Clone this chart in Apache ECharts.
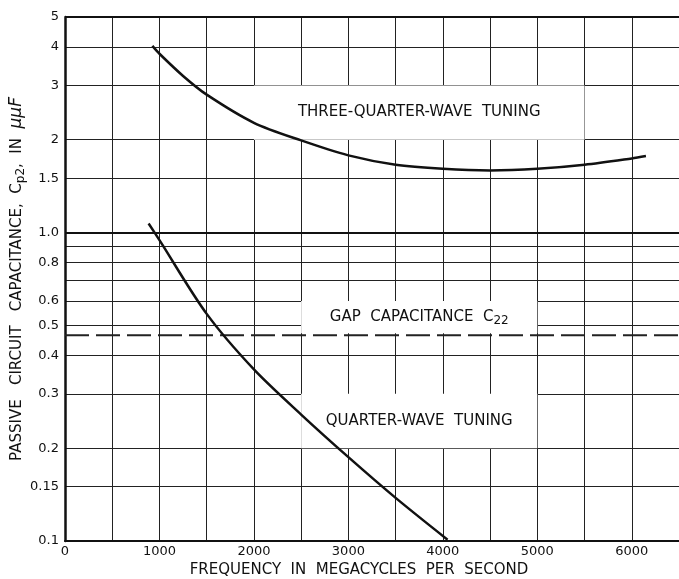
<!DOCTYPE html>
<html>
<head>
<meta charset="utf-8">
<script src="https://cdn.jsdelivr.net/npm/echarts@6/dist/echarts.min.js"></script>
<style>html,body{margin:0;padding:0;background:#fff}#c{width:679px;height:579px}</style>
</head>
<body>
<div id="c"></div>
<script>
// ---- data ----
var xTickLabels = [0, 1000, 2000, 3000, 4000, 5000, 6000];
var yGridValues = [0.1, 0.15, 0.2, 0.3, 0.4, 0.5, 0.6, 0.7, 0.8, 0.9, 1, 1.5, 2, 3, 4, 5];
var yTickLabels = [0.1, 0.15, 0.2, 0.3, 0.4, 0.5, 0.6, 0.8, 1, 1.5, 2, 3, 4, 5];
var threeQuarterWave = [[925, 4.03], [1000, 3.8], [1250, 3.22], [1500, 2.8], [2000, 2.27], [2500, 1.99], [3000, 1.78], [3500, 1.66], [4000, 1.61], [4500, 1.59], [5000, 1.61], [5500, 1.66], [6000, 1.74], [6150, 1.77]];
var quarterWave = [[885, 1.07], [1000, 0.945], [1500, 0.545], [2000, 0.36], [2500, 0.257], [3000, 0.187], [3500, 0.138], [4050, 0.101]];
var gapCapacitance = [[0, 0.465], [6500, 0.465]];
var labelBoxes = [
  {text: 'THREE-QUARTER-WAVE  TUNING', x: [2000, 5500], y: [2, 3]},
  {text: 'GAP  CAPACITANCE  {n|C}{s|22}', x: [2500, 5000], y: [0.472, 0.6]},
  {text: 'QUARTER-WAVE  TUNING', x: [2500, 5000], y: [0.2, 0.3]}
];
var thickLines = [1, 5];

var FONT = 'DejaVu Sans';
var chart = echarts.init(document.getElementById('c'));
chart.setOption({
  backgroundColor: '#fff',
  animation: false,
  grid: {left: 65, right: 0, top: 17, bottom: 38, outerBoundsMode: 'none', containLabel: false},
  xAxis: {
    type: 'value', min: 0, max: 6500, interval: 500,
    axisLine: {show: true, onZero: false, lineStyle: {color: '#111', width: 2}},
    axisTick: {show: false},
    splitLine: {show: true, lineStyle: {color: '#222', width: 1}},
    axisLabel: {customValues: xTickLabels, color: '#111', fontFamily: FONT, fontSize: 13, margin: 4,
      formatter: function (v) { return String(v); }},
    name: 'FREQUENCY  IN  MEGACYCLES  PER  SECOND',
    nameLocation: 'middle', nameGap: 18,
    nameTextStyle: {color: '#111', fontFamily: FONT, fontSize: 15, padding: [0, 26, 0, 0]}
  },
  yAxis: {
    type: 'log', logBase: 10, min: 0.1, max: 5,
    axisLine: {show: true, lineStyle: {color: '#111', width: 2.5}},
    axisTick: {show: false, customValues: yGridValues},
    splitLine: {show: true, lineStyle: {color: '#222', width: 1}},
    axisLabel: {
      customValues: yTickLabels, color: '#111', fontFamily: FONT, fontSize: 13, margin: 6,
      formatter: function (v) { return v === 1 ? '1.0' : String(v); }
    },
    name: '{n|PASSIVE   CIRCUIT   CAPACITANCE,  C}{s|p2}{n|,  IN  }{i|μμF}',
    nameLocation: 'middle', nameGap: 38, nameRotate: 90, nameMoveOverlap: false,
    nameTextStyle: {
      color: '#111', fontFamily: FONT, fontSize: 15,
      rich: {
        n: {fontFamily: FONT, fontSize: 15, color: '#111'},
        s: {fontFamily: FONT, fontSize: 12, color: '#111', padding: [8, 0, 0, 0]},
        i: {fontFamily: FONT, fontSize: 17, fontStyle: 'italic', color: '#111'}
      }
    }
  },
  series: [
    {
      type: 'line', data: [], z: 2, silent: true,
      markArea: {
        silent: true,
        itemStyle: {color: '#fff'},
        label: {
          show: true, position: 'inside', color: '#111', fontFamily: FONT, fontSize: 15,
          rich: {
            n: {fontFamily: FONT, fontSize: 15, color: '#111'},
            s: {fontFamily: FONT, fontSize: 12, color: '#111', padding: [7, 0, 0, 0]}
          }
        },
        data: labelBoxes.map(function (b) {
          return [{name: b.text, xAxis: b.x[0], yAxis: b.y[0]}, {xAxis: b.x[1], yAxis: b.y[1]}];
        })
      },
      markLine: {
        silent: true, symbol: 'none', label: {show: false},
        lineStyle: {color: '#111', width: 2, type: 'solid'},
        data: thickLines.map(function (v) { return {yAxis: v}; })
      }
    },
    {
      type: 'line', data: gapCapacitance, z: 4, silent: true, symbol: 'none',
      lineStyle: {color: '#222', width: 2, type: [24, 7]}
    },
    {
      type: 'line', data: threeQuarterWave, z: 5, silent: true, symbol: 'none', smooth: 0.3,
      lineStyle: {color: '#111', width: 2.5}
    },
    {
      type: 'line', data: quarterWave, z: 5, silent: true, symbol: 'none', smooth: 0.3,
      lineStyle: {color: '#111', width: 2.5}
    }
  ]
});
</script>
</body>
</html>
